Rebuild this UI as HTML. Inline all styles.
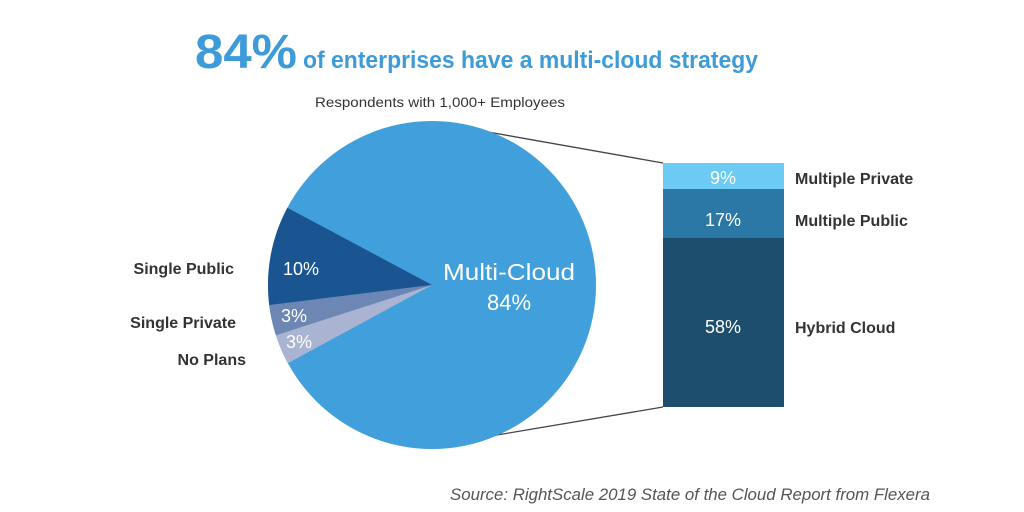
<!DOCTYPE html>
<html><head><style>
body{margin:0;background:#fff;}
svg{display:block;font-family:"Liberation Sans",sans-serif;}
</style></head><body>
<svg width="1024" height="512" viewBox="0 0 1024 512">
<rect width="1024" height="512" fill="#fff"/>
<text x="195" y="68" font-size="48" font-weight="bold" fill="#3c9bd8" textLength="102" lengthAdjust="spacingAndGlyphs">84%</text>
<text x="303" y="68" font-size="24" font-weight="bold" fill="#3c9bd8" textLength="455" lengthAdjust="spacingAndGlyphs">of enterprises have a multi-cloud strategy</text>
<text x="315" y="107" font-size="14" fill="#333" textLength="250" lengthAdjust="spacingAndGlyphs">Respondents with 1,000+ Employees</text>
<line x1="488" y1="132" x2="663" y2="163" stroke="#444" stroke-width="1.3"/>
<line x1="497" y1="435" x2="663" y2="407" stroke="#444" stroke-width="1.3"/>
<circle cx="432" cy="285" r="164" fill="#41a0db"/>
<path d="M432 285 L287.4 207.7 A164 164 0 0 0 269.2 305.1 Z" fill="#1a5591"/>
<path d="M432 285 L269.2 305.1 A164 164 0 0 0 276 335.3 Z" fill="#6d86b4"/>
<path d="M432 285 L276 335.3 A164 164 0 0 0 287.8 363.2 Z" fill="#aab4d2"/>
<g fill="#fff" font-size="18">
<text x="283" y="275">10%</text>
<text x="281" y="322">3%</text>
<text x="286" y="348">3%</text>
<text x="443" y="280" font-size="23" textLength="132" lengthAdjust="spacingAndGlyphs">Multi-Cloud</text>
<text x="509" y="310" text-anchor="middle" font-size="22">84%</text>
</g>
<rect x="663" y="163" width="121" height="26" fill="#6ccbf4"/>
<rect x="663" y="189" width="121" height="49" fill="#2b77a6"/>
<rect x="663" y="238" width="121" height="169" fill="#1d4e6e"/>
<g fill="#fff" font-size="18" text-anchor="middle">
<text x="723" y="184">9%</text>
<text x="723" y="226">17%</text>
<text x="723" y="333">58%</text>
</g>
<g fill="#333" font-size="16" font-weight="bold">
<text x="795" y="184">Multiple Private</text>
<text x="795" y="226">Multiple Public</text>
<text x="795" y="333">Hybrid Cloud</text>
<text x="234" y="274" text-anchor="end">Single Public</text>
<text x="236" y="328" text-anchor="end">Single Private</text>
<text x="246" y="365" text-anchor="end">No Plans</text>
</g>
<text x="450" y="500" font-size="17" font-style="italic" fill="#555" textLength="480" lengthAdjust="spacingAndGlyphs">Source: RightScale 2019 State of the Cloud Report from Flexera</text>
</svg>
</body></html>
